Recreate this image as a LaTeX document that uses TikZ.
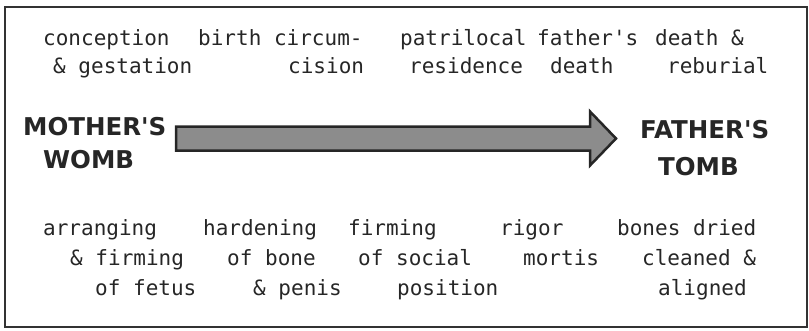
\documentclass[tikz,border=0pt]{standalone}
\usepackage{fontspec}
\newfontfamily\stagefont{DejaVu Sans Mono}
\newfontfamily\placefont{DejaVu Sans}

\begin{document}
\begin{tikzpicture}[
    x=1pt, y=-1pt,
    stage/.style={align=left, anchor=base west, inner sep=0pt, text=black!85, font=\stagefont\fontsize{21}{28}\selectfont},
    change/.style={stage, font=\stagefont\fontsize{21}{30}\selectfont},
    place/.style={align=left, anchor=base west, inner sep=0pt, text=black!85, font=\placefont\bfseries\fontsize{24.5}{33}\selectfont},
    frame/.style={draw=black!80, line width=2pt},
    passage/.style={draw=black!85, line width=2.5pt, fill=black!45, line join=miter},
]
  \useasboundingbox (0,0) rectangle (809,330);
  \draw[frame] (5,7) rectangle (807,327);

  % life stages (anchored at the last line)
  \node[stage] (conception) at (43,73) {conception\\\hspace*{10pt}\& gestation};
  \node[stage] (birth) at (198,73) {birth circum-\\\hspace*{90pt}cision};
  \node[stage] (residence) at (400,73) {patrilocal\\\hspace*{9pt}residence};
  \node[stage] (fdeath) at (537,73) {father's\\\hspace*{13pt}death};
  \node[stage] (reburial) at (655,73) {death \&\\\hspace*{12pt}reburial};

  % the passage
  \node[place] (womb) at (23,168) {MOTHER'S\\\hspace*{20pt}WOMB};
  \node[place, font=\placefont\bfseries\fontsize{24.5}{37}\selectfont] (tomb) at (640,175) {FATHER'S\\\hspace*{18pt}TOMB};
  \draw[passage] (176,126.5) -- (590,126.5) -- (590,111.5) -- (616,138.5)
    -- (590,165.5) -- (590,150.5) -- (176,150.5) -- cycle;

  % bodily changes
  \node[change] (fetus) at (43,295) {arranging\\\hspace*{27pt}\& firming\\\hspace*{52pt}of fetus};
  \node[change] (bone) at (203,295) {hardening\\\hspace*{24pt}of bone\\\hspace*{50pt}\& penis};
  \node[change] (social) at (348,295) {firming\\\hspace*{10pt}of social\\\hspace*{49pt}position};
  \node[change] (rigor) at (500,265) {rigor\\\hspace*{23pt}mortis};
  \node[change] (bones) at (617,295) {bones dried\\\hspace*{25pt}cleaned \&\\\hspace*{41pt}aligned};
\end{tikzpicture}
\end{document}
